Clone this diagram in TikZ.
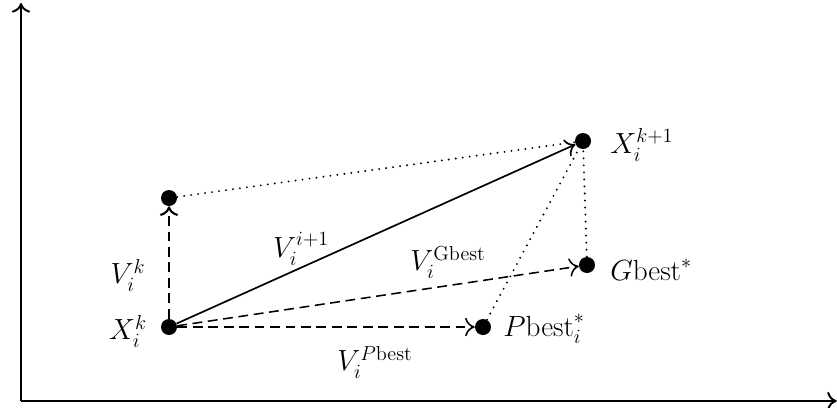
\documentclass[tikz,border=0pt]{standalone}
\usepackage{amsmath}
\usetikzlibrary{arrows.meta}
\begin{document}
\begin{tikzpicture}[>={To[length=2.4mm,width=4.6mm]},
		dot/.style={circle,fill=black,inner sep=0pt,minimum size=0.4cm},
		lbl/.style={font=\fontsize{21}{25}\selectfont,inner sep=0pt},
		vdash/.style={line width=1.1pt,dash pattern=on 7pt off 4pt},
		vdot/.style={line width=1.5pt,line cap=round,dash pattern=on 0pt off 5pt}]
			\useasboundingbox (0,0) rectangle (20.925,10.175);

			% Axes
			\coordinate (O) at (0.525,0.15);
			\coordinate (Y) at (0.525,10.1);
			\coordinate (X) at (20.92,0.15);
			\draw[->,line width=1.4pt] (O) to (Y);
			\draw[->,line width=1.4pt] (O) to (X);

			% Nodes
			\node[dot] (xk) at (4.225,2.0) {};
			\node[dot] (vt) at (4.225,5.225) {};
			\node[dot] (xn) at (14.575,6.65) {};
			\node[dot] (gb) at (14.675,3.55) {};
			\node[dot] (pb) at (12.075,2.0) {};

			% Labels
			\node[lbl] (lxk) at (3.2,1.9) {$X_i^k$};
			\node[lbl] (lvk) at (3.2,3.3) {$V_i^k$};
			\node[lbl] (lvn) at (7.525,3.95) {$V_i^{i+1}$};
			\node[lbl] (lvg) at (11.2,3.62) {$V_i^{\mathrm{Gbest}}$};
			\node[lbl] (lvp) at (9.375,1.125) {$V_i^{P\mathrm{best}}$};
			\node[lbl,anchor=west] (lgb) at (15.25,3.425) {$G\mathrm{best}^{*}$};
			\node[lbl,anchor=west] (lpb) at (12.575,1.95) {$P\mathrm{best}_i^{*}$};
			\node[lbl,anchor=west] (lxn) at (15.25,6.55) {$X_i^{k+1}$};

			% Velocity arrows
			\draw[->,vdash,line width=1.5pt] (xk) to (vt);
			\draw[->,line width=1.2pt] (xk) to (xn);
			\draw[->,vdash] (xk) to (gb);
			\draw[->,vdash] (xk) to (pb);

			% Dotted lines
			\draw[vdot] (vt) to (xn);
			\draw[vdot] (pb) to (xn);
			\draw[vdot] (gb) to (xn);

		\end{tikzpicture}
\end{document}
